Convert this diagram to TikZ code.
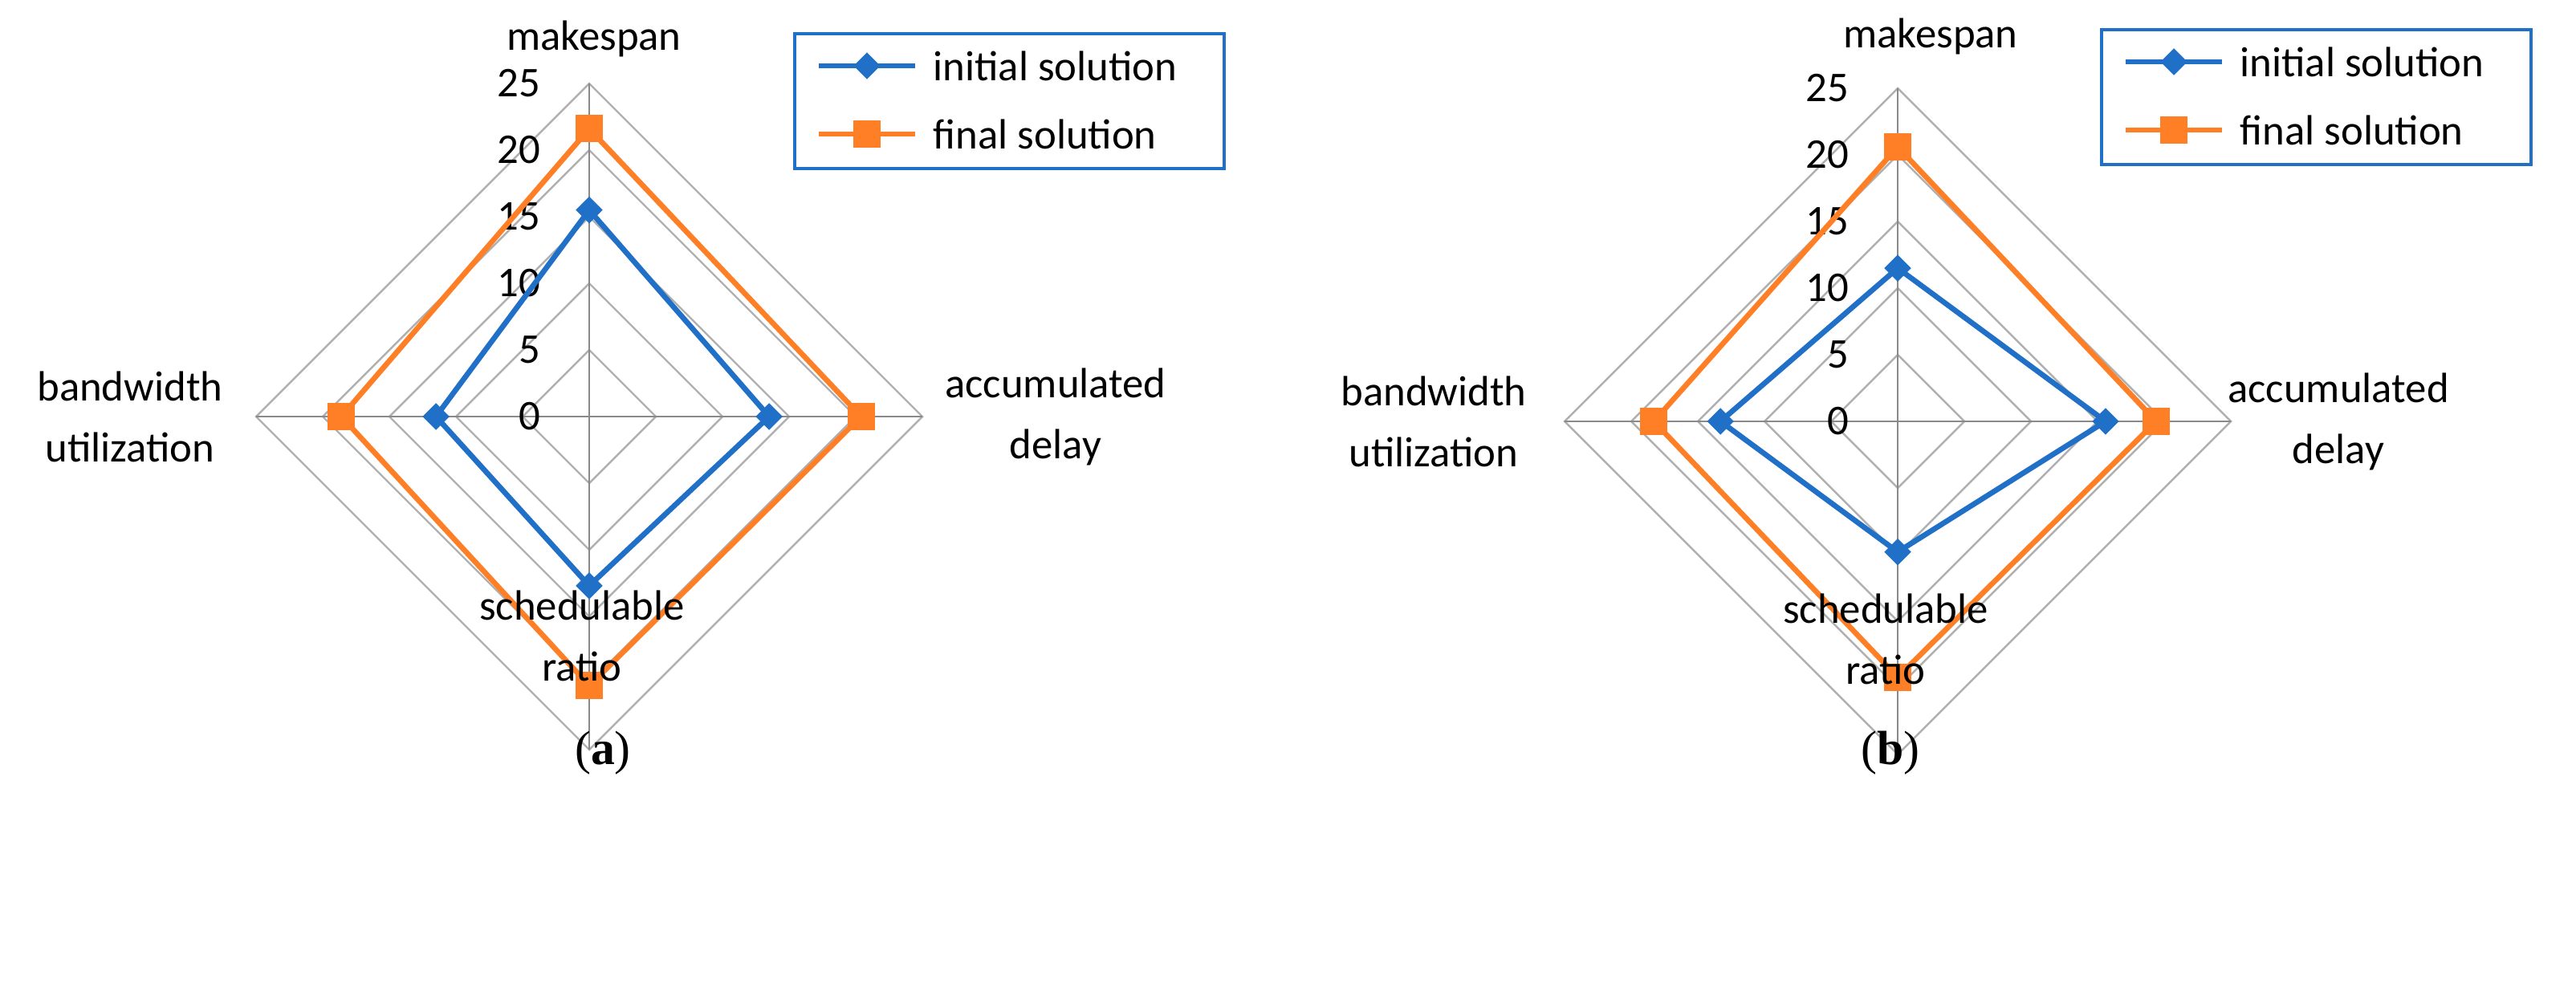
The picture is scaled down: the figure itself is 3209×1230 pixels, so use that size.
\documentclass[tikz,border=0pt]{standalone}
\usetikzlibrary{shapes.geometric}
\usepackage{fontspec}
\setmainfont{Carlito}
\newfontfamily\capfont{Liberation Serif}
\definecolor{sblue}{HTML}{2070C8}
\definecolor{sorange}{HTML}{FF7F27}
\definecolor{gridg}{HTML}{B0B0B0}
\definecolor{axisg}{HTML}{8A8A8A}
\begin{document}
\begin{tikzpicture}[x=0.01cm,y=-0.01cm,
  grid/.style={gridg,line width=0.7pt},
  axis/.style={axisg,line width=0.8pt},
  bl/.style={sblue,line width=1.9pt,line join=round},
  ol/.style={sorange,line width=1.9pt,line join=round},
  lab/.style={font=\fontsize{15}{18}\selectfont,align=center,inner sep=0},
  tick/.style={font=\fontsize{15}{18}\selectfont,anchor=east,inner sep=0},
  subcap/.style={font=\capfont\fontsize{17}{20}\selectfont,inner sep=0},
  dia/.style={fill=sblue,draw=none,diamond,minimum size=0.34cm,inner sep=0},
  sq/.style={fill=sorange,draw=none,minimum size=0.34cm,inner sep=0},
  legbox/.style={draw=sblue,line width=1.1pt}]
\useasboundingbox (0,0) rectangle (3209,1230);
\newcommand\myradar[8]{%
  \foreach \k in {1,...,5}{
    \draw[grid] (0,-83*\k) -- (83*\k,0) -- (0,83*\k) -- (-83*\k,0) -- cycle;}
  \draw[axis] (0,-415) -- (0,415);
  \draw[axis] (-415,0) -- (415,0);
  \foreach \k/\t in {0/0,1/5,2/10,3/15,4/20,5/25}{
    \node[tick] at (-60,-83*\k) {\t};}
  \draw[bl] (0,-#1*16.6) -- (#2*16.6,0) -- (0,#3*16.6) -- (-#4*16.6,0) -- cycle;
  \draw[ol] (0,-#5*16.6) -- (#6*16.6,0) -- (0,#7*16.6) -- (-#8*16.6,0) -- cycle;
  \node[dia] at (0,-#1*16.6) {}; \node[dia] at (#2*16.6,0) {};
  \node[dia] at (0,#3*16.6) {}; \node[dia] at (-#4*16.6,0) {};
  \node[sq] at (0,-#5*16.6) {}; \node[sq] at (#6*16.6,0) {};
  \node[sq] at (0,#7*16.6) {}; \node[sq] at (-#8*16.6,0) {};
}
\newcommand\mylegend{%
  \draw[legbox] (0,0) rectangle (535,168);
  \draw[bl] (30,40) -- (150,40); \node[dia] at (90,40) {};
  \node[lab,anchor=west] at (172,40) {initial solution};
  \draw[ol] (30,125) -- (150,125); \node[sq] at (90,125) {};
  \node[lab,anchor=west] at (172,125) {final solution};
}
% chart (a)
\begin{scope}[shift={(734,519)}]
  \myradar{15.5}{13.5}{12.7}{11.5}{21.6}{20.4}{20.2}{18.6}
\end{scope}
\begin{scope}[shift={(990,42)}]\mylegend\end{scope}
\node[lab] (ma) at (740,48) {makespan};
\node[lab] (ba) at (162,519) {bandwidth\\[0.5ex]utilization};
\node[lab] (da) at (1315,519) {accumulated\\[0.5ex]delay};
\node[lab] (sa) at (725,792) {schedulable\\[0.5ex]ratio};
\node[subcap] (ca) at (751,938) {(\textbf{a})};
% chart (b)
\begin{scope}[shift={(2364,525)}]
  \myradar{11.5}{15.6}{9.8}{13.3}{20.6}{19.4}{19.2}{18.3}
\end{scope}
\begin{scope}[shift={(2618,37)}]\mylegend\end{scope}
\node[lab] (mb) at (2405,45) {makespan};
\node[lab] (bb) at (1786,525) {bandwidth\\[0.5ex]utilization};
\node[lab] (db) at (2913,525) {accumulated\\[0.5ex]delay};
\node[lab] (sb) at (2349,796) {schedulable\\[0.5ex]ratio};
\node[subcap] (cb) at (2355,938) {(\textbf{b})};
\end{tikzpicture}
\end{document}
